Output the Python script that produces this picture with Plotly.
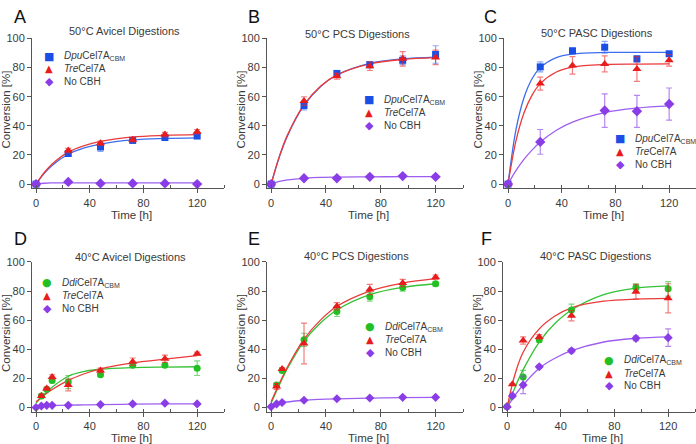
import plotly.graph_objects as go

W, H = 696, 444

# ---------------- data ----------------
FIT_T = [0, 6, 12, 24, 36, 48, 72, 96, 120]
FIT_T_C = [0, 6, 12, 18, 24, 36, 48, 72, 96, 120]

# A: 50C Avicel
A_t = [0, 24, 48, 72, 96, 120]
A_dpu = [0, 21, 25.5, 30, 32, 33]
A_dpu_err = [0, 1.5, 3, 1.5, 1, 1]
A_tre = [0, 23, 28, 30.5, 34, 36]
A_tre_err = [0, 1.5, 1.5, 1.5, 1.5, 1.5]
A_no = [0, 1.5, 0.5, 0.5, 0.5, 0]
A_no_err = [0, 0.3, 0.3, 0.3, 0.3, 0.3]
A_fit_dpu = [0, 7.2, 12.8, 20.5, 24.8, 27.5, 30.4, 31.4, 31.8]
A_fit_tre = [0, 7.8, 13.8, 22, 26.5, 29.3, 32.4, 33.5, 34]
A_fit_no = [0, 0.6, 0.8, 0.9, 0.9, 0.9, 0.9, 0.9, 0.9]

# B: 50C PCS
B_t = [0, 24, 48, 72, 96, 120]
B_dpu = [0, 54, 76, 82, 85, 89]
B_dpu_err = [0, 3, 2, 2, 3, 6]
B_tre = [0, 57, 74, 81, 86, 87]
B_tre_err = [0, 3, 2, 3, 5, 5]
B_no = [0, 4, 4, 5, 5.5, 5]
B_no_err = [0, 0.5, 0.5, 0.5, 0.5, 0.5]
B_fit_dpu = [0, 18.6, 33.3, 54, 66.9, 74.9, 82.9, 86, 87.2]
B_fit_tre = [0, 19, 33.8, 54.5, 67.2, 75, 82.6, 85.6, 86.8]
B_fit_no = [0, 1.8, 2.9, 4, 4.6, 4.8, 5, 5.1, 5.2]

# C: 50C PASC
C_t = [0, 24, 48, 72, 96, 120]
C_dpu = [0, 80.5, 91.5, 94, 86, 89.5]
C_dpu_err = [0, 3.5, 2, 4, 2, 1.5]
C_tre = [0, 69, 81.5, 82.5, 79, 85]
C_tre_err = [0, 4.5, 6, 5.5, 8.5, 4]
C_no_t = [0, 24, 72, 96, 120]
C_no = [0, 29, 50.5, 50, 55]
C_no_err = [0, 8.5, 11.5, 11, 11]
C_fit_dpu = [0, 37.8, 59.7, 72.5, 80, 86.9, 89.3, 90.4, 90.5, 90.5]
C_fit_tre = [0, 30, 49.1, 61.3, 69, 77, 80.3, 82.1, 82.4, 82.5]
C_fit_no = [0, 9.4, 17.1, 23.5, 28.9, 37, 42.6, 49.1, 52.2, 53.7]

# D: 40C Avicel
D_t = [4, 8, 12, 24, 48, 72, 96, 120]
D_dd = [8, 12.5, 18.5, 17.5, 22.5, 29, 29, 27]
D_dd_err = [1, 1, 1.5, 4.5, 1, 1.5, 1, 5]
D_tre = [8, 13, 21, 15.5, 25.5, 31.5, 33.5, 37]
D_tre_err = [1, 1, 1.5, 4, 1.5, 2.5, 2.5, 1]
D_no_t = [0, 4, 8, 12, 24, 48, 72, 96, 120]
D_no = [0, 1, 1.5, 1.5, 1.5, 2, 2.5, 3, 2.5]
D_no_err = [0, 0.3, 0.3, 0.3, 0.3, 0.3, 0.3, 0.3, 0.3]
D_fit_dd = [3, 9, 14, 21.5, 24.8, 26.3, 27.4, 27.8, 28]
D_fit_tre = [4, 8.5, 12.4, 18.7, 23.2, 26.6, 30.7, 33.2, 35.7]
D_fit_no = [0.3, 1, 1.3, 1.6, 1.8, 2, 2.3, 2.5, 2.5]

# E: 40C PCS
E_t = [4, 8, 24, 48, 72, 96, 120]
E_dd = [15.5, 25.5, 46.5, 66, 76, 82.5, 85]
E_dd_err = [1.5, 1, 4.5, 3.5, 3, 2.5, 1.5]
E_tre = [14.5, 26.5, 44, 69.5, 81, 85.5, 89.5]
E_tre_err = [2, 1, 14, 2.5, 3.5, 2.5, 1.5]
E_no_t = [0, 4, 8, 24, 48, 72, 96, 120]
E_no = [0.5, 2.5, 3.5, 5, 6, 6.5, 7, 7]
E_no_err = [0, 0.3, 0.3, 0.3, 0.3, 0.3, 0.3, 0.3]
E_fit_dd = [3, 15.5, 27, 45.5, 58, 67, 77.5, 82.5, 85]
E_fit_tre = [4, 16.5, 28, 47, 60, 69.5, 80, 85.5, 88.5]
E_fit_no = [0.5, 2.8, 3.8, 5, 5.6, 6, 6.5, 6.8, 7]

# F: 40C PASC
F_dd_t = [0, 12, 24, 48, 96, 120]
F_dd = [0.5, 21, 46.5, 67, 82.5, 81.5]
F_dd_err = [0, 4.5, 1.5, 4, 2.5, 5]
F_tre_t = [0, 4, 12, 24, 48, 96, 120]
F_tre = [1, 16, 46, 48.5, 63, 79.5, 75]
F_tre_err = [0, 0.5, 2.5, 1.5, 3.5, 5, 10]
F_no_t = [0, 4, 12, 24, 48, 96, 120]
F_no = [0.5, 8, 15.5, 28, 39, 47.5, 48]
F_no_err = [0, 1, 6, 1, 1.5, 1.5, 6]
F_fit_dd = [0, 14, 26, 45, 58, 67, 77.5, 82, 83.5]
F_fit_tre = [0, 23, 38, 54, 63, 68.5, 73, 74.5, 75]
F_fit_no = [0, 8.5, 15.5, 27, 34, 39, 45, 47.5, 48.5]

TITLES = ["50°C Avicel Digestions", "50°C PCS Digestions", "50°C PASC Digestions",
          "40°C Avicel Digestions", "40°C PCS Digestions", "40°C PASC Digestions"]
LETTERS = ["A", "B", "C", "D", "E", "F"]
LBL_DPU = "<i>Dpu</i>Cel7A<sub>CBM</sub>"
LBL_DD = "<i>Ddi</i>Cel7A<sub>CBM</sub>"
LBL_TRE = "<i>Tre</i>Cel7A"
LBL_NO = "No CBH"

# ---------------- styles ----------------
FONT = "Liberation Sans"
TXT = "#3a3a3a"
BLUE, BLUE_L, BLUE_E = "#1a4fe6", "#3d6ef0", "rgba(60,110,240,0.6)"
RED, RED_L, RED_E = "#e81c1c", "#ea3a3a", "rgba(232,40,40,0.6)"
PUR, PUR_L, PUR_E = "#8a3de6", "#9d5ef0", "rgba(140,70,230,0.65)"
GRN, GRN_L, GRN_E = "#23c023", "#35c135", "rgba(40,190,40,0.6)"

# panel pixel boxes: (x0, x1, ytop, ybottom)
BOX = [(32, 224, 33, 185.4), (267, 463, 33, 185.4), (504, 696, 33, 185.4),
       (32, 224, 260, 412.4), (267, 463, 260, 412.4), (503, 695, 260, 412.4)]
LEG = [(49, 51), (369, 95), (620, 135), (47, 281), (370, 326), (609, 360)]
TITLE_POS = [(125, 25), (357, 28), (597, 27), (130, 255), (356, 254), (596, 254)]
LETTER_POS = [(12, 11), (246, 11), (482, 11), (12, 237), (246, 237), (479, 237)]

fig = go.Figure()
ann = []


def px(x):
    return x / W


def py(y):
    return 1 - y / H


def add_pts(i, t, y, err, color, ecolor, symbol, size):
    ax = "" if i == 0 else str(i + 1)
    fig.add_trace(go.Scatter(
        x=t, y=y, mode="markers", xaxis="x" + ax, yaxis="y" + ax, showlegend=False,
        marker=dict(color=color, symbol=symbol, size=size, line=dict(width=0)),
        error_y=dict(type="data", array=err, color=ecolor, thickness=1.2, width=3),
        cliponaxis=False))


def add_fit(i, t, y, color):
    ax = "" if i == 0 else str(i + 1)
    fig.add_trace(go.Scatter(
        x=t, y=y, mode="lines", xaxis="x" + ax, yaxis="y" + ax, showlegend=False,
        line=dict(color=color, width=1.3, shape="spline", smoothing=1.0),
        hoverinfo="skip"))


panels = [
    ([(FIT_T, A_fit_dpu, BLUE_L), (FIT_T, A_fit_tre, RED_L), (FIT_T, A_fit_no, PUR_L)],
     [(A_t, A_dpu, A_dpu_err, BLUE, BLUE_E, "square", 7), (A_t, A_tre, A_tre_err, RED, RED_E, "triangle-up", 8),
      (A_t, A_no, A_no_err, PUR, PUR_E, "diamond", 8)], "dpu"),
    ([(FIT_T, B_fit_dpu, BLUE_L), (FIT_T, B_fit_tre, RED_L), (FIT_T, B_fit_no, PUR_L)],
     [(B_t, B_dpu, B_dpu_err, BLUE, BLUE_E, "square", 7), (B_t, B_tre, B_tre_err, RED, RED_E, "triangle-up", 8),
      (B_t, B_no, B_no_err, PUR, PUR_E, "diamond", 8)], "dpu"),
    ([(FIT_T_C, C_fit_dpu, BLUE_L), (FIT_T_C, C_fit_tre, RED_L), (FIT_T_C, C_fit_no, PUR_L)],
     [(C_t, C_dpu, C_dpu_err, BLUE, BLUE_E, "square", 7), (C_t, C_tre, C_tre_err, RED, RED_E, "triangle-up", 8),
      (C_no_t, C_no, C_no_err, PUR, PUR_E, "diamond", 8)], "dpu"),
    ([(FIT_T, D_fit_dd, GRN_L), (FIT_T, D_fit_tre, RED_L), (FIT_T, D_fit_no, PUR_L)],
     [(D_t, D_dd, D_dd_err, GRN, GRN_E, "circle", 7), (D_t, D_tre, D_tre_err, RED, RED_E, "triangle-up", 8),
      (D_no_t, D_no, D_no_err, PUR, PUR_E, "diamond", 7)], "dd"),
    ([(FIT_T, E_fit_dd, GRN_L), (FIT_T, E_fit_tre, RED_L), (FIT_T, E_fit_no, PUR_L)],
     [(E_t, E_dd, E_dd_err, GRN, GRN_E, "circle", 7), (E_t, E_tre, E_tre_err, RED, RED_E, "triangle-up", 8),
      (E_no_t, E_no, E_no_err, PUR, PUR_E, "diamond", 7)], "dd"),
    ([(FIT_T, F_fit_dd, GRN_L), (FIT_T, F_fit_tre, RED_L), (FIT_T, F_fit_no, PUR_L)],
     [(F_dd_t, F_dd, F_dd_err, GRN, GRN_E, "circle", 7), (F_tre_t, F_tre, F_tre_err, RED, RED_E, "triangle-up", 8),
      (F_no_t, F_no, F_no_err, PUR, PUR_E, "diamond", 7)], "dd"),
]

layout_axes = {}
for i, (fits, pts, kind) in enumerate(panels):
    for t, y, c in fits:
        add_fit(i, t, y, c)
    for t, y, e, c, ec, s, sz in pts:
        add_pts(i, t, y, e, c, ec, s, sz)

    x0, x1, yt, yb = BOX[i]
    sfx = "" if i == 0 else str(i + 1)
    axcol = "#555555"
    layout_axes["xaxis" + sfx] = dict(
        domain=[px(x0), min(px(x1), 1.0)], range=[-3, 140], anchor="y" + sfx,
        showline=True, linecolor=axcol, linewidth=1, showgrid=False, zeroline=False,
        tickmode="linear", tick0=0, dtick=40, ticks="outside", ticklen=4, tickcolor=axcol,
        minor=dict(tickmode="linear", tick0=0, dtick=20, ticks="inside", ticklen=3, tickcolor=axcol),
        tickfont=dict(family=FONT, size=11, color=TXT), fixedrange=True)
    layout_axes["yaxis" + sfx] = dict(
        domain=[py(yb), py(yt)], range=[-3, 100], anchor="x" + sfx,
        showline=True, linecolor=axcol, linewidth=1, showgrid=False, zeroline=False,
        tickmode="linear", tick0=0, dtick=20, ticks="outside", ticklen=4, tickcolor=axcol,
        tickfont=dict(family=FONT, size=11, color=TXT), fixedrange=True)

    tx, ty = TITLE_POS[i]
    ann.append(dict(text=TITLES[i], x=px(tx), y=py(ty), xref="paper", yref="paper",
                    showarrow=False, xanchor="center", yanchor="middle",
                    font=dict(family=FONT, size=11, color=TXT)))
    lx, ly = LETTER_POS[i]
    ann.append(dict(text=LETTERS[i], x=px(lx), y=py(ly), xref="paper", yref="paper",
                    showarrow=False, xanchor="left", yanchor="middle",
                    font=dict(family=FONT, size=18, color="#111111")))
    ann.append(dict(text="Time [h]", x=px((x0 + x1) / 2 + 3), y=py(yb + 27), xref="paper", yref="paper",
                    showarrow=False, xanchor="center", yanchor="middle",
                    font=dict(family=FONT, size=11.5, color=TXT)))
    ann.append(dict(text="Conversion [%]", x=px(x0 - 26), y=py((yt + yb) / 2 - 4), xref="paper", yref="paper",
                    showarrow=False, xanchor="center", yanchor="middle", textangle=-90,
                    font=dict(family=FONT, size=11.5, color=TXT)))

    gx, gy = LEG[i]
    if kind == "dpu":
        items = [("■", BLUE, LBL_DPU, 11), ("▲", RED, LBL_TRE, 10), ("◆", PUR, LBL_NO, 11)]
    else:
        items = [("●", GRN, LBL_DD, 11), ("▲", RED, LBL_TRE, 10), ("◆", PUR, LBL_NO, 11)]
    for k, (g, col, lbl, gs) in enumerate(items):
        yy = gy + k * 13
        ann.append(dict(text=g, x=px(gx), y=py(yy), xref="paper", yref="paper", showarrow=False,
                        xanchor="center", yanchor="middle", font=dict(family="DejaVu Sans", size=gs, color=col)))
        ann.append(dict(text=lbl, x=px(gx + 13), y=py(yy), xref="paper", yref="paper", showarrow=False,
                        xanchor="left", yanchor="middle", font=dict(family=FONT, size=10, color=TXT)))

fig.update_layout(
    width=W, height=H, margin=dict(l=0, r=0, t=0, b=0),
    paper_bgcolor="white", plot_bgcolor="white", showlegend=False,
    annotations=ann, **layout_axes)

fig.write_html("out.html", config={"displayModeBar": False},
               post_script="document.body.style.margin='0';document.body.style.overflow='hidden';")
